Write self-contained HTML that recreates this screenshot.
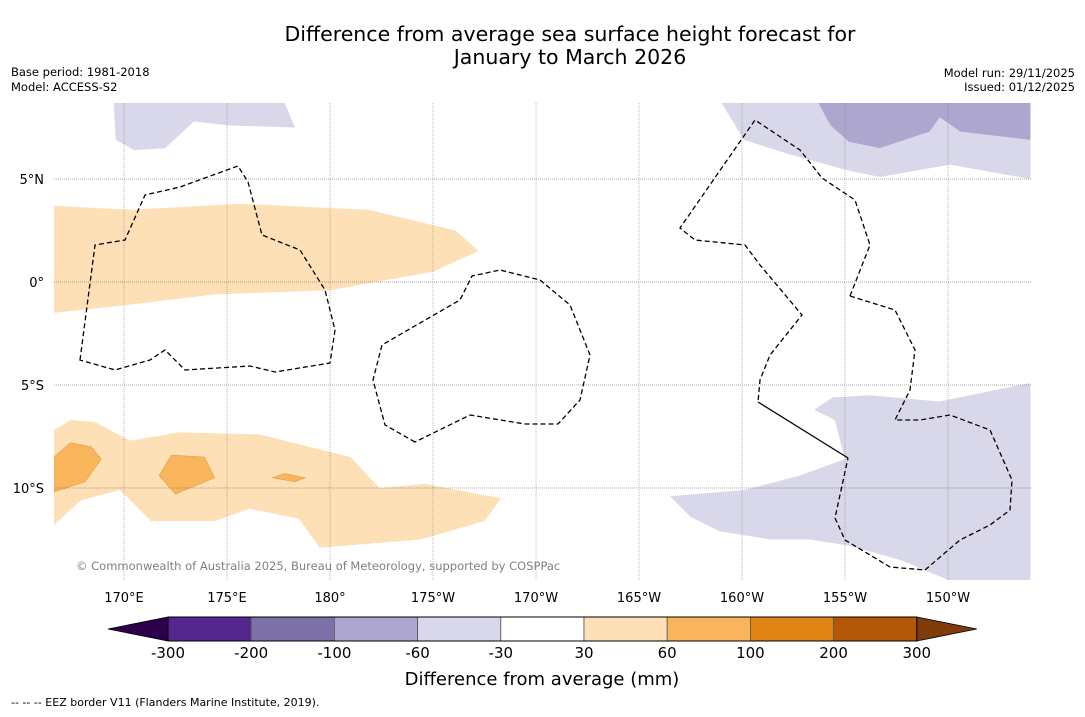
<!DOCTYPE html>
<html><head><meta charset="utf-8"><style>
body{margin:0;background:#fff;font-family:"DejaVu Sans","Liberation Sans",sans-serif;}
svg text{font-family:"DejaVu Sans","Liberation Sans",sans-serif;}
</style></head><body>
<svg id="c" width="1085" height="713" xmlns="http://www.w3.org/2000/svg">
<text x="570" y="41" font-size="20.5" text-anchor="middle">Difference from average sea surface height forecast for</text>
<text x="570" y="64" font-size="20.5" text-anchor="middle">January to March 2026</text>
<text x="11" y="76" font-size="11.5">Base period: 1981-2018</text>
<text x="11" y="91" font-size="11.5">Model: ACCESS-S2</text>
<text x="1075" y="77" font-size="11.5" text-anchor="end">Model run: 29/11/2025</text>
<text x="1075" y="91" font-size="11.5" text-anchor="end">Issued: 01/12/2025</text>
<defs><clipPath id="mc"><rect x="54" y="103" width="977" height="477"/></clipPath></defs>
<g id="map" clip-path="url(#mc)"></g>
<g id="grid"></g>
<g id="eez" clip-path="url(#mc)" fill="none" stroke="#000" stroke-width="1.3" stroke-dasharray="5,3">
<path d="M80,360 L95,245 L125,240 L145,195 L180,187 L238,166 L248,182 L262,235 L300,250 L325,290 L335,330 L330,363 L275,372 L250,366 L185,370 L165,350 L150,360 L115,370 Z"/>
<path d="M415,442 L385,425 L373,380 L382,345 L460,300 L472,276 L500,270 L540,280 L570,305 L590,355 L580,400 L558,424 L525,424 L470,415 Z"/>
<path d="M850,296 L870,245 L855,200 L822,178 L800,150 L755,120 L680,228 L695,240 L745,245 L760,265 L802,315 L770,355 L760,380 L758,402"/>
<path d="M850,296 L895,310 L915,350 L910,390 L895,420 L920,420 L950,415 L990,430 L1012,480 L1010,510 L990,525 L960,540 L925,570 L890,567 L845,540 L835,518 L848,458"/>
<path d="M758,402 L848,458" stroke-dasharray="none"/>
</g>
<text x="76" y="570" font-size="11.5" fill="#808080">© Commonwealth of Australia 2025, Bureau of Meteorology, supported by COSPPac</text>
<g id="axes"></g>
<g id="cbar"></g>
<text x="542" y="685" font-size="18" text-anchor="middle">Difference from average (mm)</text>
<text x="11" y="706" font-size="11">--  --  -- EEZ border V11 (Flanders Marine Institute, 2019).</text>
</svg>
<script>
const lonTicks=[170,175,180,185,190,195,200,205,210];
const lonLabels=["170°E","175°E","180°","175°W","170°W","165°W","160°W","155°W","150°W"];
const latTicks=[5,0,-5,-10];
const latLabels=["5°N","0°","5°S","10°S"];
const binLabels=["-300","-200","-100","-60","-30","30","60","100","200","300"];
const binColors=["#54278f","#7e71aa","#ada7cf","#d8d8ea","#ffffff","#fde0b6","#f9b55c","#e08214","#b35806"];
const lowColor="#2d004b", highColor="#7f3b08";
const regionLevels=[3,3,2,3,5,5,6,6,6];
const regions=[
[[169.5,8.7],[169.6,6.9],[170.5,6.4],[172,6.5],[173.4,7.8],[175.1,7.6],[178.3,7.5],[177.8,8.7]],
[[199,8.7],[200.1,6.9],[202.3,6.2],[205.2,5.4],[206.7,5.1],[210.1,5.7],[214,5.0],[214,8.7]],
[[203.7,8.7],[204.3,7.6],[205.2,6.8],[206.7,6.5],[209.1,7.3],[209.6,8.0],[210.6,7.3],[214,6.9],[214,8.7]],
[[196.5,-10.4],[200.1,-10.1],[202.8,-9.4],[205,-8.6],[204.5,-6.7],[203.5,-6.2],[204.4,-5.6],[206.2,-5.5],[209.6,-5.8],[214,-4.9],[214,-14.5],[210.1,-14.5],[207.7,-13.5],[205.2,-12.8],[203.3,-12.5],[201.4,-12.5],[198.9,-12.1],[197.5,-11.4]],
[[166.6,3.7],[166.6,-1.5],[170.3,-1.1],[174.4,-0.6],[180,-0.4],[185,0.5],[187.2,1.5],[186.1,2.5],[181.9,3.5],[175.6,3.8],[170.3,3.5]],
[[166.6,-7.2],[167.4,-6.7],[168.6,-6.8],[170.3,-7.7],[172.7,-7.3],[176.6,-7.4],[181,-8.5],[182.4,-10],[184.6,-9.8],[188.3,-10.5],[187.5,-11.6],[184.4,-12.5],[179.5,-12.9],[178.5,-11.5],[176.1,-11],[174.4,-11.6],[171.3,-11.6],[169.8,-10.1],[167.9,-10.6],[166.6,-11.8]],
[[166.6,-8.5],[167.4,-7.8],[168.4,-8],[168.9,-8.6],[168.1,-9.7],[166.6,-10.2]],
[[171.7,-9.4],[172.3,-8.4],[173.9,-8.5],[174.4,-9.5],[172.5,-10.3]],
[[177.2,-9.5],[177.8,-9.3],[178.8,-9.5],[178.3,-9.7]]
];
const NS="http://www.w3.org/2000/svg";
const X=lon=>124+(lon-170)*20.6, Y=lat=>282-lat*20.6;
function mk(t,p,a){const e=document.createElementNS(NS,t);for(const k in a)e.setAttribute(k,a[k]);p.appendChild(e);return e;}
const map=document.getElementById('map');
regions.forEach((r,i)=>{const p=mk('polygon',map,{points:r.map(q=>X(q[0])+','+Y(q[1])).join(' '),fill:binColors[regionLevels[i]],stroke:binColors[regionLevels[i]]==="#f9b55c"?"#e8a040":"none","stroke-width":0.6});

});
const grid=document.getElementById('grid'),axes=document.getElementById('axes');
lonTicks.forEach((l,i)=>{const ln=mk('line',grid,{x1:X(l),x2:X(l),y1:103,y2:580,stroke:"#777","stroke-width":0.5,"stroke-dasharray":"1,1"});


const t=mk('text',axes,{x:X(l),y:602,"font-size":13,"text-anchor":"middle"});t.textContent=lonLabels[i];

});
latTicks.forEach((l,i)=>{const ln=mk('line',grid,{x1:54,x2:1031,y1:Y(l),y2:Y(l),stroke:"#555","stroke-width":0.6,"stroke-dasharray":"1,1"});


const t=mk('text',axes,{x:44,y:Y(l)+5,"font-size":13,"text-anchor":"end"});t.textContent=latLabels[i];

});
const cb=document.getElementById('cbar');const x0=168,w=83.2,y0=617,h=24;
const lt=mk('polygon',cb,{points:`108,${y0+h/2} ${x0},${y0} ${x0},${y0+h}`,fill:lowColor,stroke:"#000","stroke-width":0.8});


const xe=x0+w*binColors.length;
const ht=mk('polygon',cb,{points:`${xe+60},${y0+h/2} ${xe},${y0} ${xe},${y0+h}`,fill:highColor,stroke:"#000","stroke-width":0.8});


binColors.forEach((c,i)=>{const r=mk('rect',cb,{x:x0+i*w,y:y0,width:w,height:h,fill:c,stroke:"#555","stroke-width":0.8});

});
mk('rect',cb,{x:x0,y:y0,width:w*binColors.length,height:h,fill:"none",stroke:"#000","stroke-width":1});
binLabels.forEach((s,i)=>{const t=mk('text',cb,{x:x0+i*w,y:658,"font-size":15,"text-anchor":"middle"});t.textContent=s;

});
</script>
</body></html>
